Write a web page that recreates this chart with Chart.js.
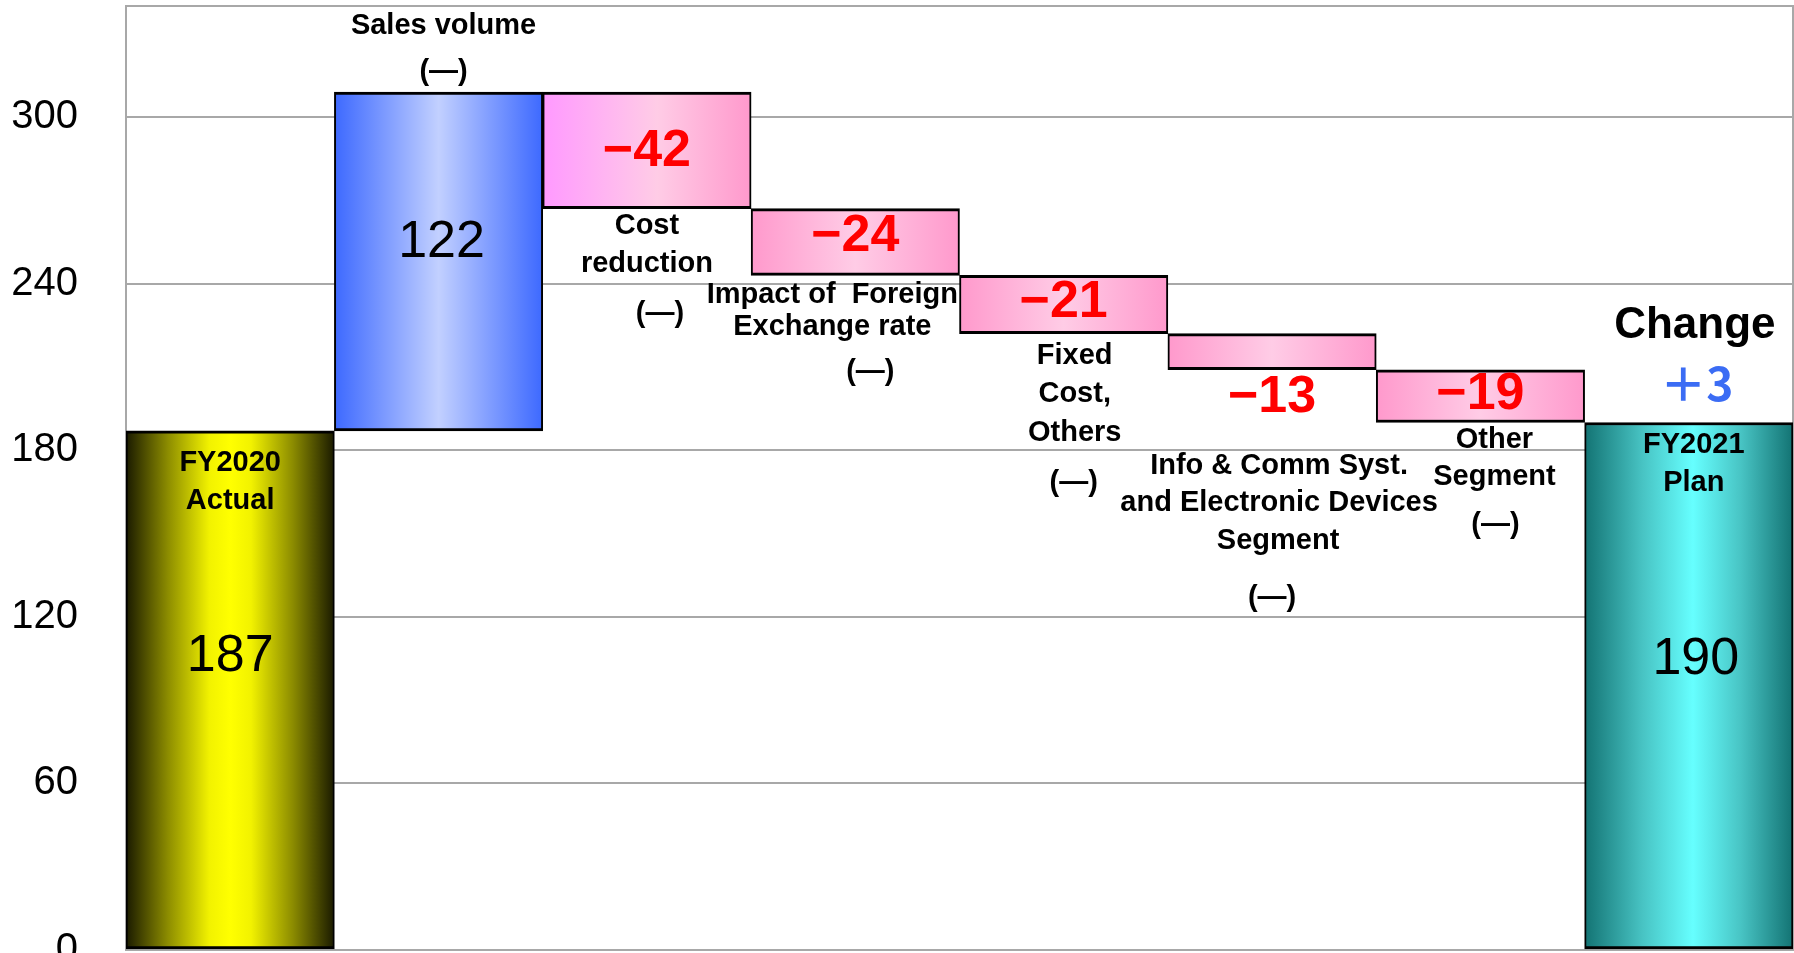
<!DOCTYPE html>
<html>
<head>
<meta charset="utf-8">
<script src="https://cdn.jsdelivr.net/npm/chart.js@4.4.1/dist/chart.umd.min.js"></script>
<style>
  html, body { margin: 0; padding: 0; background: #fff; }
  canvas { display: block; }
</style>
</head>
<body>
<canvas id="waterfall" width="1794" height="953"></canvas>
<script>
// values
const categories = ['FY2020 Actual', 'Sales volume', 'Cost reduction', 'Impact of Foreign Exchange rate',
  'Fixed Cost, Others', 'Info & Comm Syst. and Electronic Devices Segment', 'Other Segment', 'FY2021 Plan']
const startValue = 187
const changes = [122, -42, -24, -21, -13, -19]
const endValue = 190
const valueLabels = ['187', '122', '−42', '−24', '−21', '−13', '−19', '190']
const yTicks = [0, 60, 120, 180, 240, 300]
const changeTitle = 'Change'
const changeLabel = '＋3'

// build floating bars for the waterfall
let floating = [[0, startValue]]
let running = startValue
changes.forEach(d => {
  floating.push([running, running + d])
  running += d
})
floating.push([0, endValue])

// fills for each bar (horizontal gradients)
const stopsYellow = [[0, '#1a1a00'], [0.2, '#8c8c00'], [0.4, '#f2f200'], [0.5, '#ffff00'], [0.6, '#f2f200'], [0.8, '#8c8c00'], [1, '#1a1a00']]
const stopsBlue = [[0, '#3d69ff'], [0.25, '#7f9cff'], [0.5, '#c2d0ff'], [0.75, '#7f9cff'], [1, '#3d69ff']]
const stopsPinkFirst = [[0, '#ff99ff'], [0.55, '#ffcce6'], [1, '#ff99cc']]
const stopsPink = [[0, '#ff99cc'], [0.5, '#ffcce6'], [1, '#ff99cc']]
const stopsTeal = [[0, '#137373'], [0.28, '#48c4c4'], [0.52, '#66ffff'], [0.75, '#48c4c4'], [1, '#137373']]

function stopsFor(i) {
  if (i === 0) return stopsYellow
  if (i === 1) return stopsBlue
  if (i === 2) return stopsPinkFirst
  if (i === categories.length - 1) return stopsTeal
  return stopsPink
}

function barFill(context) {
  const chart = context.chart
  const area = chart.chartArea
  if (!area) return '#ccc'
  const x = chart.scales.x
  const c = x.getPixelForValue(context.dataIndex)
  const half = (area.right - area.left) / categories.length / 2
  const g = chart.ctx.createLinearGradient(c - half, 0, c + half, 0)
  stopsFor(context.dataIndex).forEach(s => g.addColorStop(s[0], s[1]))
  return g
}

// text placed on the chart: [category index, y value, x offset px, text, kind]
const texts = [
  [0, 175.4, 0, 'FY2020', 'cap'], [0, 161.7, 0, 'Actual', 'cap'],
  [1, 332.8, 5, 'Sales volume', 'cap'], [1, 316.2, 5, '(—)', 'cap'],
  [2, 260.8, 0, 'Cost', 'cap'], [2, 247.1, 0, 'reduction', 'cap'], [2, 229.1, 13, '(—)', 'cap'],
  [3, 235.9, -23, 'Impact of  Foreign', 'cap'], [3, 224.4, -23, 'Exchange rate', 'cap'], [3, 208.2, 15, '(—)', 'cap'],
  [4, 213.9, 11, 'Fixed', 'cap'], [4, 200.3, 11, 'Cost,', 'cap'], [4, 186.2, 11, 'Others', 'cap'], [4, 168.2, 10, '(—)', 'cap'],
  [5, 174.3, 7, 'Info & Comm Syst.', 'cap'], [5, 161.0, 7, 'and Electronic Devices', 'cap'], [5, 147.3, 6, 'Segment', 'cap'], [5, 126.8, 0, '(—)', 'cap'],
  [6, 183.7, 14, 'Other', 'cap'], [6, 170.4, 14, 'Segment', 'cap'], [6, 153.1, 15, '(—)', 'cap'],
  [7, 181.9, 5, 'FY2021', 'cap'], [7, 168.2, 5, 'Plan', 'cap'],
  [7, 224.7, 6, changeTitle, 'title'], [7, 204.2, 8, changeLabel, 'plus'],
  [0, 105.5, 0, valueLabels[0], 'num'], [1, 254.6, 3, valueLabels[1], 'num'],
  [2, 287.4, 0, valueLabels[2], 'neg'], [3, 256.8, 0, valueLabels[3], 'neg'],
  [4, 233.0, 0, valueLabels[4], 'neg'], [5, 198.8, 0, valueLabels[5], 'neg'],
  [6, 199.9, 0, valueLabels[6], 'neg'], [7, 104.4, 7, valueLabels[7], 'num']
]
const textStyles = {
  cap: { font: 'bold 29px "Liberation Sans", Arial, sans-serif', color: '#000' },
  title: { font: 'bold 44px "Liberation Sans", Arial, sans-serif', color: '#000' },
  plus: { font: 'bold 46px "Noto Sans CJK JP", sans-serif', color: '#3b6cf4' },
  num: { font: '52px "Liberation Sans", Arial, sans-serif', color: '#000' },
  neg: { font: 'bold 52px "Liberation Sans", Arial, sans-serif', color: '#ff0000' }
}

const textPlugin = {
  id: 'texts',
  beforeDatasetsDraw(chart) {
    const { ctx, chartArea } = chart
    ctx.save()
    ctx.strokeStyle = '#a8a8a8'
    ctx.lineWidth = 2
    ctx.strokeRect(chartArea.left, chartArea.top, chartArea.right - chartArea.left, chartArea.bottom - chartArea.top)
    ctx.restore()
  },
  afterDatasetsDraw(chart) {
    const ctx = chart.ctx
    const x = chart.scales.x
    const y = chart.scales.y
    ctx.save()
    ctx.textAlign = 'center'
    ctx.textBaseline = 'middle'
    texts.forEach(t => {
      const st = textStyles[t[4]]
      ctx.font = st.font
      ctx.fillStyle = st.color
      ctx.fillText(t[3], x.getPixelForValue(t[0]) + t[2], y.getPixelForValue(t[1]))
    })
    ctx.restore()
  }
}

const chart = new Chart(document.getElementById('waterfall'), {
  type: 'bar',
  data: {
    labels: categories,
    datasets: [{
      data: floating,
      backgroundColor: barFill,
      borderColor: '#000',
      borderWidth: { top: 3, bottom: 3, left: 2, right: 2 },
      borderSkipped: false,
      barPercentage: 1,
      categoryPercentage: 1
    }]
  },
  options: {
    responsive: false,
    animation: false,
    layout: { padding: { top: 6, right: 1, bottom: 3, left: 0 } },
    plugins: {
      legend: { display: false },
      tooltip: { enabled: false }
    },
    scales: {
      x: { display: false },
      y: {
        min: 0,
        max: 340,
        border: { display: false },
        grid: { color: '#a8a8a8', lineWidth: 2, drawTicks: false },
        ticks: {
          stepSize: 60,
          padding: 48,
          color: '#000',
          font: { family: '"Liberation Sans", Arial, sans-serif', size: 40 },
          callback: v => yTicks.includes(v) ? String(v) : ''
        },
        afterFit(scale) {
          scale.width = 126
          scale.paddingTop = 0
          scale.paddingBottom = 0
        }
      }
    }
  },
  plugins: [textPlugin]
})
</script>
</body>
</html>
